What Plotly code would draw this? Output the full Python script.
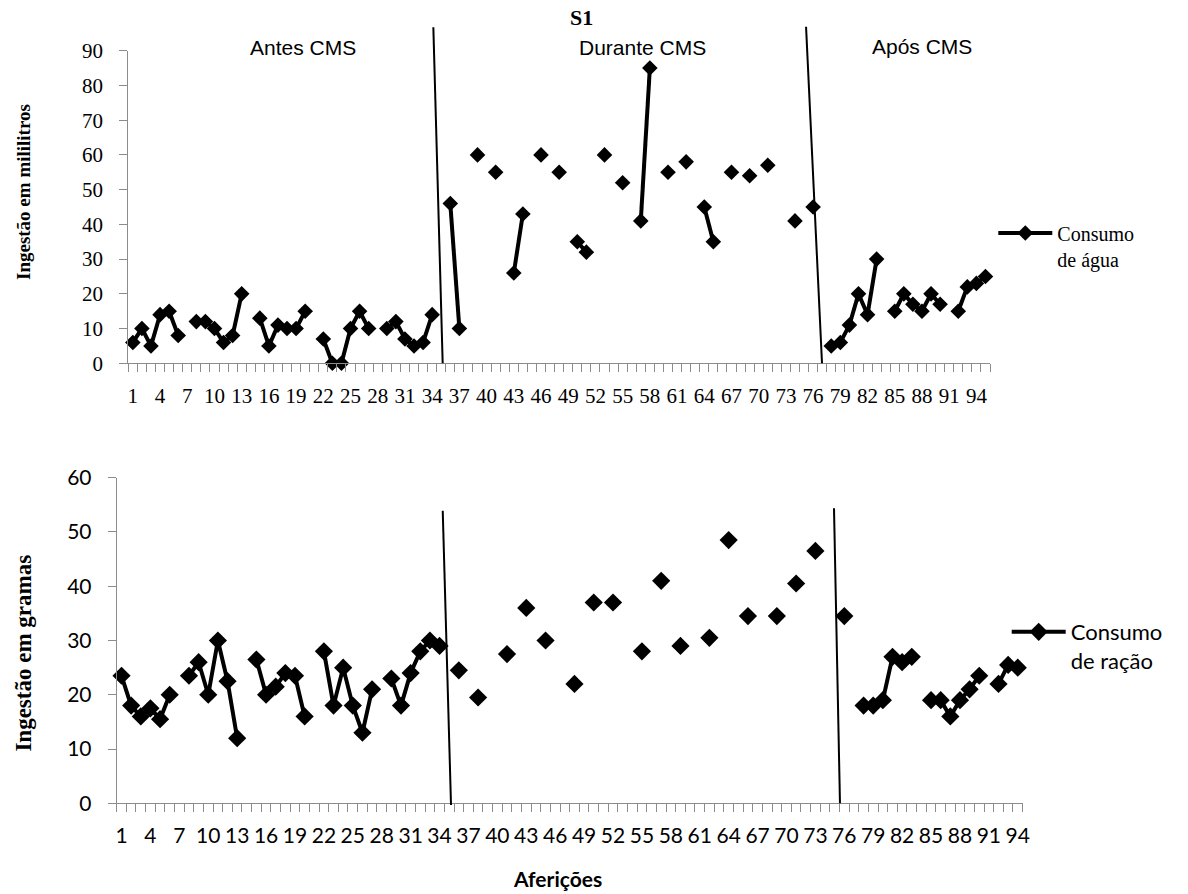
import plotly.graph_objects as go

# ---------------------------------------------------------------
# Data: daily measurements (aferições); None = no measurement
# ---------------------------------------------------------------
afericoes_agua = list(range(1, 96))
afericoes_racao = list(range(1, 95))

# Water intake (mL)
consumo_agua = [
    6, 10, 5, 14, 15, 8, None,
    12, 12, 10, 6, 8, 20, None,
    13, 5, 11, 10, 10, 15, None,
    7, 0, 0, 10, 15, 10, None,
    10, 12, 7, 5, 6, 14, None,
    46, 10, None, 60, None, 55, None,
    26, 43, None, 60, None, 55, None,
    35, 32, None, 60, None, 52, None,
    41, 85, None, 55, None, 58, None,
    45, 35, None, 55, None, 54, None,
    57, None, None, 41, None, 45, None,
    5, 6, 11, 20, 14, 30, None,
    15, 20, 17, 15, 20, 17, None,
    15, 22, 23, 25,
]

# Feed intake (g)
consumo_racao = [
    23.5, 18, 16, 17.5, 15.5, 20, None,
    23.5, 26, 20, 30, 22.5, 12, None,
    26.5, 20, 21.5, 24, 23.5, 16, None,
    28, 18, 25, 18, 13, 21, None,
    23, 18, 24, 28, 30, 29, None,
    24.5, None, 19.5, None, None, 27.5, None,
    36, None, 30, None, None, 22, None,
    37, None, 37, None, None, 28, None,
    41, None, 29, None, None, 30.5, None,
    48.5, None, 34.5, None, None, 34.5, None,
    40.5, None, 46.5, None, None, 34.5, None,
    18, 18, 19, 27, 26, 27, None,
    19, 19, 16, 19, 21, 23.5, None,
    22, 25.5, 25,
]

rotulos_x = list(range(1, 95, 3))            # 1, 4, 7, ..., 94
ticks_agua = list(range(0, 91, 10))
ticks_racao = list(range(0, 61, 10))

fases = ["Antes CMS", "Durante CMS", "Após CMS"]

# ---------------------------------------------------------------
W, H = 1188, 894
GRAY = "#8c8c8c"
SERIF = "Liberation Serif"
SANS = "Lato"

dom_x1 = [128.3 / W, 990.0 / W]
dom_y1 = [1 - 363.3 / H, 1 - 50.7 / H]
dom_x2 = [116.7 / W, 1022.6 / W]
dom_y2 = [1 - 803.3 / H, 1 - 477.7 / H]
rng_x1 = [0.5, len(afericoes_agua) + 0.5]
rng_x2 = [0.5, len(afericoes_racao) + 0.5]


def cat_to_paper(v, dom, rng):
    return dom[0] + (v - rng[0]) / (rng[1] - rng[0]) * (dom[1] - dom[0])


fig = go.Figure()

fig.add_trace(go.Scatter(
    x=afericoes_agua, y=consumo_agua, mode="lines+markers",
    name="Consumo<br>de água",
    line=dict(color="black", width=4),
    marker=dict(symbol="diamond", size=12, color="black"),
    cliponaxis=False, xaxis="x", yaxis="y", legend="legend",
))

fig.add_trace(go.Scatter(
    x=afericoes_racao, y=consumo_racao, mode="lines+markers",
    name="Consumo<br>de ração",
    line=dict(color="black", width=4),
    marker=dict(symbol="diamond", size=14, color="black"),
    cliponaxis=False, xaxis="x2", yaxis="y2", legend="legend2",
))


def cat_axis(domain, anchor, rng, n, font):
    return dict(
        domain=domain, anchor=anchor, range=rng,
        tickmode="array", tickvals=rotulos_x, ticktext=[str(v) for v in rotulos_x],
        ticks="", tickangle=0, tickfont=font, ticklabelstandoff=13,
        showline=True, linecolor=GRAY, linewidth=1,
        showgrid=False, zeroline=False,
        minor=dict(tickmode="array", tickvals=[k + 0.5 for k in range(0, n + 1)],
                   ticks="outside", ticklen=8, tickcolor=GRAY, tickwidth=1),
    )


def val_axis(domain, anchor, rng, vals, font):
    return dict(
        domain=domain, anchor=anchor, range=rng,
        tickmode="array", tickvals=vals,
        ticks="outside", ticklen=8, tickcolor=GRAY, tickwidth=1,
        tickfont=font, ticklabelstandoff=12,
        showline=True, linecolor=GRAY, linewidth=1,
        showgrid=False, zeroline=False,
    )


font_top = dict(family=SERIF, size=21, color="black")
font_bot = dict(family=SANS, size=21, color="black")

# Phase dividers (slanted lines between phases)
divisores = [
    (34.13, 1 - 27.3 / H, 35.16, dom_y1[0], dom_x1, rng_x1),
    (75.22, 1 - 26.7 / H, 76.98, dom_y1[0], dom_x1, rng_x1),
    (34.33, 1 - 510.7 / H, 35.19, 1 - 805.0 / H, dom_x2, rng_x2),
    (74.93, 1 - 508.3 / H, 75.55, dom_y2[0], dom_x2, rng_x2),
]
shapes = []
for xa, ya, xb, yb, dom, rng in divisores:
    shapes.append(dict(
        type="line", xref="paper", yref="paper",
        x0=cat_to_paper(xa, dom, rng), y0=ya,
        x1=cat_to_paper(xb, dom, rng), y1=yb,
        line=dict(color="black", width=2),
    ))

fase_font = dict(family="Liberation Sans", size=21, color="black")
annotations = [
    dict(text="<b>S1</b>", x=581 / W, y=1 - 18 / H,
         font=dict(family=SERIF, size=22, color="black")),
    dict(text=fases[0], x=303 / W, y=1 - 47 / H, font=fase_font),
    dict(text=fases[1], x=642.7 / W, y=1 - 47 / H, font=fase_font),
    dict(text=fases[2], x=921.7 / W, y=1 - 46 / H, font=fase_font),
    dict(text="<b>Ingestão em mililitros</b>", x=23.3 / W, y=1 - 191.7 / H,
         textangle=-90, font=dict(family=SERIF, size=19, color="black")),
    dict(text="<b>Ingestão em gramas</b>", x=23.3 / W, y=1 - 653.3 / H,
         textangle=-90, font=dict(family=SERIF, size=23, color="black")),
    dict(text="<b>Aferições</b>", x=557 / W, y=1 - 878 / H,
         font=dict(family=SANS, size=21, color="black")),
]
for a in annotations:
    a.update(xref="paper", yref="paper", showarrow=False,
             xanchor="center", yanchor="middle")

fig.update_layout(
    width=W, height=H,
    margin=dict(l=0, r=0, t=0, b=0, autoexpand=False),
    paper_bgcolor="white", plot_bgcolor="white",
    xaxis=cat_axis(dom_x1, "y", rng_x1, len(afericoes_agua), font_top),
    yaxis=val_axis(dom_y1, "x", [0, 90], ticks_agua, font_top),
    xaxis2=cat_axis(dom_x2, "y2", rng_x2, len(afericoes_racao), font_bot),
    yaxis2=val_axis(dom_y2, "x2", [0, 60], ticks_racao, font_bot),
    shapes=shapes,
    annotations=annotations,
    legend=dict(x=993.3 / W, y=1 - 213.5 / H, xanchor="left", yanchor="top",
                itemwidth=54, valign="top", bgcolor="rgba(0,0,0,0)",
                font=dict(family=SERIF, size=20, color="black")),
    legend2=dict(x=1006.7 / W, y=1 - 611 / H, xanchor="left", yanchor="top",
                 itemwidth=54, valign="top", bgcolor="rgba(0,0,0,0)",
                 font=dict(family=SANS, size=22, color="black")),
    showlegend=True,
)

fig.write_html("out.html")
